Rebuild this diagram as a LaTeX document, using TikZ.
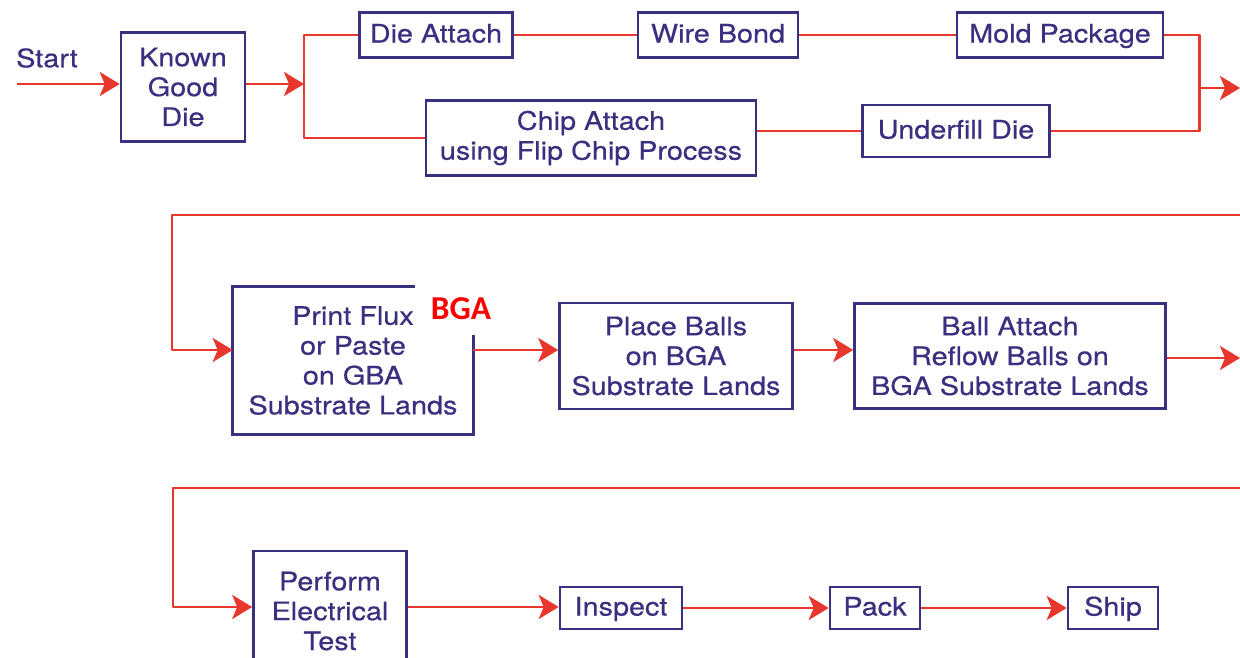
\documentclass[tikz,border=0pt]{standalone}
\usepackage{fontspec}
\setmainfont{TeX Gyre Heros}[FakeStretch=1.13, FakeBold=0.5]
\newfontfamily\tagfont{Carlito}
\usetikzlibrary{positioning, arrows.meta, calc}
\definecolor{boxnavy}{RGB}{58,48,128}
\definecolor{flowred}{RGB}{232,56,46}

\begin{document}
\begin{tikzpicture}[
  x=0.02cm, y=-0.02cm,
  >={Stealth[length=0.4cm, width=0.48cm, inset=0.1cm]},
  every node/.style={font=\fontsize{14.5}{17}\selectfont, text=boxnavy},
  stage/.style={draw=boxnavy, line width=1.5pt, align=center, inner sep=2pt},
  oneline/.style={stage, text height=0.86em, text depth=0pt},
  link/.style={flowred, line width=1.7pt, line join=round},
  feed/.style={->, flowred, line width=1.7pt, line join=round},
]
  \useasboundingbox (0,0) rectangle (1240,658);
  \clip (0,0) rectangle (1240,658);
  \fill[white] (0,0) rectangle (1240,658);

  % die level
  \node (start) at (47,58) {Start};
  \node[stage, minimum width=2.48cm, minimum height=2.18cm] (kgd) at (183,87) {Known\\Good\\Die};
  \node[oneline, minimum width=3.06cm, minimum height=0.9cm] (dieatt) at (436,35) {Die Attach};
  \node[oneline, minimum width=3.2cm,  minimum height=0.9cm] (wire) at (718,35) {Wire Bond};
  \node[oneline, minimum width=4.12cm, minimum height=0.9cm] (mold) at (1060,35) {Mold Package};
  \node[stage, minimum width=6.6cm,  minimum height=1.5cm] (chip) at (591,138) {Chip Attach\\using Flip Chip Process};
  \node[oneline, minimum width=3.74cm, minimum height=1.04cm] (fill) at (956,131) {Underfill Die};

  \coordinate (src)   at (17,84);
  \coordinate (split) at (304,84);
  \coordinate (merge) at (1199,88);
  \coordinate (out1)  at (1240,88);

  \draw[feed] (src) -- (src -| kgd.west);
  \draw[feed] (src -| kgd.east) -- (split);
  \draw[link] (dieatt.west) -| (split) |- (chip.west);
  \foreach \a/\b in {dieatt/wire, wire/mold}\draw[link] (\a) -- (\b);
  \draw[link] (chip.east |- fill.west) -- (fill.west);
  \draw[link] (mold.east) -| (merge) |- (fill.east);
  \draw[feed] (merge) -- (out1);

  % substrate level
  \node[align=center, inner sep=2pt, minimum width=4.8cm, minimum height=2.94cm] (pflux) at (353,360.5) {Print Flux\\or Paste\\on GBA\\Substrate Lands};
  \draw[boxnavy, line width=1.5pt] ([xshift=-1.16cm]pflux.north east) -- (pflux.north west) -- (pflux.south west)
        -- (pflux.south east) -- ([yshift=-0.96cm]pflux.north east);
  \node[font=\tagfont\bfseries\fontsize{19}{20}\selectfont, text=red] (bga) at (461,309) {BGA};
  \node[stage, minimum width=4.66cm, minimum height=2.12cm] (place) at (676,356) {Place Balls\\on BGA\\Substrate Lands};
  \node[stage, minimum width=6.22cm, minimum height=2.1cm] (reflow) at (1010,356) {Ball Attach\\Reflow Balls on\\BGA Substrate Lands};

  \coordinate (in2)   at (1240,215);
  \coordinate (turn2) at (172,350);
  \coordinate (out2)  at (1240,358);

  \draw[feed] (in2) -| (turn2) -- (turn2 -| pflux.west);
  \draw[feed] (turn2 -| pflux.east) -- (turn2 -| place.west);
  \draw[feed] (turn2 -| place.east) -- (turn2 -| reflow.west);
  \draw[feed] (out2 -| reflow.east) -- (out2);

  % final level
  \node[stage, minimum width=3.06cm, minimum height=2.4cm] (etest) at (330,611) {Perform\\Electrical\\Test};
  \node[oneline, minimum width=2.44cm, minimum height=0.84cm] (insp) at (621,608) {Inspect};
  \node[oneline, minimum width=1.8cm,  minimum height=0.84cm] (pack) at (875,608) {Pack};
  \node[oneline, minimum width=1.8cm,  minimum height=0.84cm] (ship) at (1113,608) {Ship};

  \coordinate (in3)   at (1240,488);
  \coordinate (turn3) at (173,607);

  \draw[feed] (in3) -| (turn3) -- (turn3 -| etest.west);
  \draw[feed] (turn3 -| etest.east) -- (turn3 -| insp.west);
  \foreach \a/\b in {insp/pack, pack/ship}\draw[feed] (\a) -- (\b);
\end{tikzpicture}
\end{document}
